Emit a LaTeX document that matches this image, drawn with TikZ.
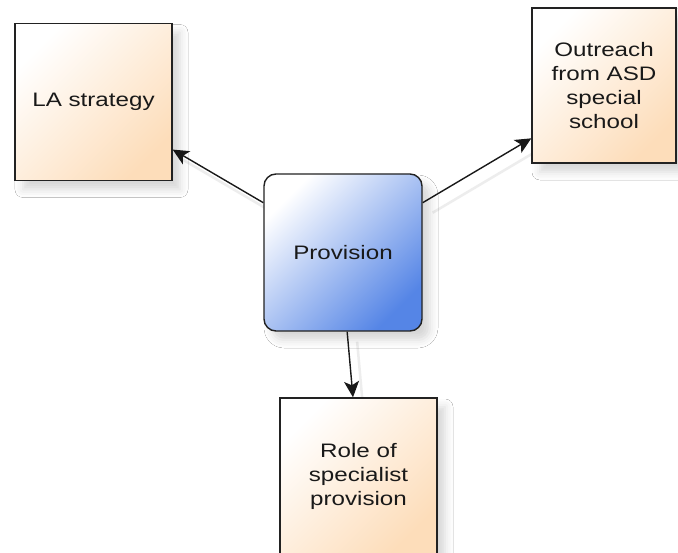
\documentclass[tikz,border=0pt]{standalone}
\usepackage{fontspec}
\setmainfont{Liberation Sans}[FakeStretch=1.24]
\usetikzlibrary{arrows.meta,shadows.blur,backgrounds}

\definecolor{peach}{HTML}{FDDDBA}
\definecolor{provblue}{HTML}{5585E6}
\definecolor{edgegray}{HTML}{222222}

\tikzset{
  softshadow/.style={blur shadow={shadow xshift=8pt, shadow yshift=-9pt,
      shadow blur radius=8pt, shadow opacity=16}},
  topicbox/.style={draw=edgegray, line width=1.4pt, rectangle, inner sep=0pt,
      top color=white, bottom color=peach, shading angle=45,
      align=center, text=black!90, softshadow,
      font=\fontsize{19.5}{24}\selectfont},
  hubbox/.style={topicbox, rounded corners=12pt,
      top color=white, bottom color=provblue, shading angle=45},
  link/.style={draw=black!90, line width=1.4pt,
      -{Stealth[length=16pt, width=15pt, inset=4pt]},
      preaction={draw=black!7, line width=2.5pt, -,
        transform canvas={shift={(10pt,-10pt)}}}},
}

\begin{document}
\begin{tikzpicture}[x=1pt, y=-1pt]
  \useasboundingbox (0,0) rectangle (678,553);
  \clip (0,0) rectangle (678,553);

  \node[topicbox, minimum width=157pt, minimum height=157pt] (la)
    at (93.5,102) {LA strategy};
  \node[topicbox, minimum width=144pt, minimum height=155pt] (outreach)
    at (604,85.5) {Outreach\\from ASD\\special\\school};
  \node[hubbox, minimum width=158pt, minimum height=157pt] (prov)
    at (343,252.5) {Provision};
  \node[topicbox, minimum width=157pt, minimum height=156pt] (role)
    at (358.5,476) {Role of\\specialist\\provision};

  % connectors sit behind the boxes so their shadows stay outside them
  \begin{pgfonlayer}{background}
    \fill[white] (0,0) rectangle (678,553);
    \draw[link] (prov.148) -- (la.-31);
    \draw[link] (prov.32.6) -- (outreach.216);
    \draw[link] (prov.273.6) -- (role.94);
  \end{pgfonlayer}
\end{tikzpicture}
\end{document}
